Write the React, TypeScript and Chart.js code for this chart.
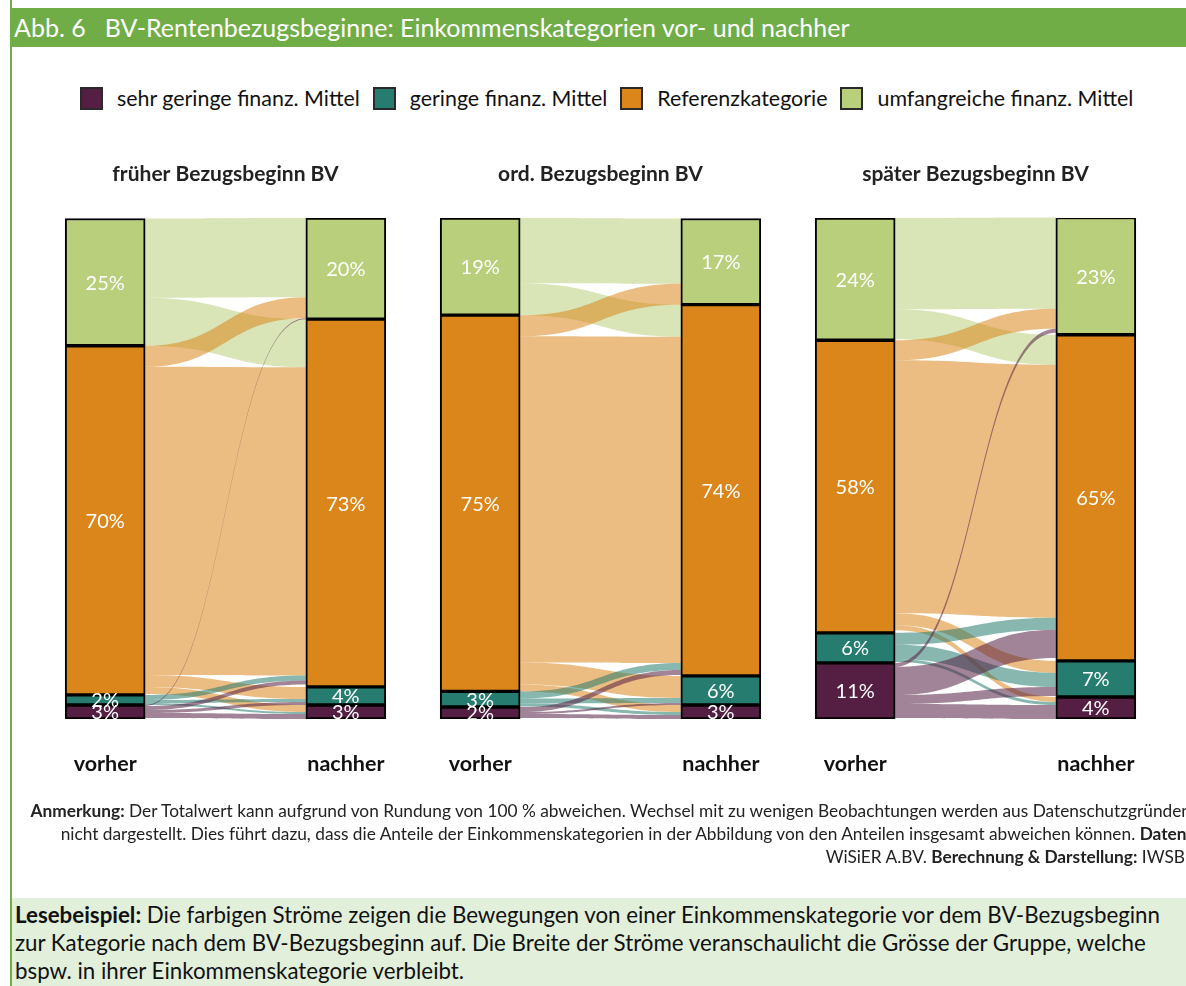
import React, { useEffect, useRef } from "react";
import { Chart, registerables } from "chart.js";

Chart.register(...registerables);
document.body.style.margin = "0";

const FONT = "Lato, 'Open Sans', sans-serif";

// Category order: bottom -> top of the stack
const categories = [
  "sehr geringe finanz. Mittel",
  "geringe finanz. Mittel",
  "Referenzkategorie",
  "umfangreiche finanz. Mittel",
];
const barColors = ["#541f42", "#277c70", "#db861b", "#b9cf7b"];
const flowColors = [
  "rgba(84,31,66,0.55)",
  "rgba(39,124,112,0.55)",
  "rgba(219,134,27,0.55)",
  "rgba(185,207,123,0.55)",
];
const stages = ["vorher", "", "nachher"];
const panelTitles = ["früher Bezugsbeginn BV", "ord. Bezugsbeginn BV", "später Bezugsbeginn BV"];

// shares in % (sehr geringe, geringe, Referenz, umfangreiche)
const fruehVorher = [2.8, 2.0, 69.7, 25.4];
const fruehNachher = [2.8, 3.6, 73.4, 20.2];
const ordVorher = [2.4, 3.1, 75.1, 19.4];
const ordNachher = [2.8, 5.8, 74.1, 17.2];
const spaetVorher = [11.2, 6.0, 58.4, 24.4];
const spaetNachher = [4.4, 7.2, 65.1, 23.4];

// flows[from][to] in %, same category order
const fruehFlows = [
  [1.0, 0.6, 0.8, 0.2],
  [0.4, 0.6, 1.0, 0],
  [1.4, 2.4, 61.5, 4.2],
  [0, 0, 9.6, 15.8],
];
const ordFlows = [
  [0.8, 0.4, 1.0, 0],
  [0.6, 1.0, 1.4, 0],
  [1.4, 4.4, 65.1, 4.2],
  [0, 0, 6.4, 13.0],
];
const spaetFlows = [
  [2.8, 1.8, 5.6, 0.8],
  [0.6, 2.8, 2.4, 0],
  [1.0, 2.4, 50.5, 4.0],
  [0, 0, 6.0, 18.2],
];

const panels = [
  { title: panelTitles[0], before: fruehVorher, after: fruehNachher, flows: fruehFlows },
  { title: panelTitles[1], before: ordVorher, after: ordNachher, flows: ordFlows },
  { title: panelTitles[2], before: spaetVorher, after: spaetNachher, flows: spaetFlows },
];

const TOP_DOWN = [3, 2, 1, 0];

const sankeyPlugin = {
  id: "sankeyFlows",
  beforeDatasetsDraw(chart: any) {
    const cfg = chart.options.plugins.sankeyFlows;
    if (!cfg) return;
    const { flows, before, after } = cfg;
    const y = chart.scales.y;
    const meta = chart.getDatasetMeta(0);
    const bL = meta.data[0];
    const bR = meta.data[2];
    const x0 = bL.x + bL.width / 2;
    const x1 = bR.x - bR.width / 2;
    const xm = (x0 + x1) / 2;
    const cum = (arr: number[], i: number) => arr.slice(0, i + 1).reduce((a, b) => a + b, 0);
    const src: Record<string, [number, number]> = {};
    const tgt: Record<string, [number, number]> = {};
    for (const s of TOP_DOWN) {
      let top = cum(before, s);
      for (const t of TOP_DOWN) {
        const v = flows[s][t];
        if (!v) continue;
        src[s + "-" + t] = [top, top - v];
        top -= v;
      }
    }
    for (const t of TOP_DOWN) {
      let top = cum(after, t);
      for (const s of TOP_DOWN) {
        const v = flows[s][t];
        if (!v) continue;
        tgt[s + "-" + t] = [top, top - v];
        top -= v;
      }
    }
    const ctx = chart.ctx;
    ctx.save();
    for (const s of TOP_DOWN) {
      for (const t of TOP_DOWN) {
        const k = s + "-" + t;
        if (!src[k]) continue;
        const sy0 = y.getPixelForValue(src[k][0]);
        const sy1 = y.getPixelForValue(src[k][1]);
        const ty0 = y.getPixelForValue(tgt[k][0]);
        const ty1 = y.getPixelForValue(tgt[k][1]);
        ctx.beginPath();
        ctx.moveTo(x0, sy0);
        ctx.bezierCurveTo(xm, sy0, xm, ty0, x1, ty0);
        ctx.lineTo(x1, ty1);
        ctx.bezierCurveTo(xm, ty1, xm, sy1, x0, sy1);
        ctx.closePath();
        ctx.fillStyle = flowColors[s];
        ctx.fill();
      }
    }
    ctx.restore();
  },
  afterDatasetsDraw(chart: any) {
    const ctx = chart.ctx;
    ctx.save();
    ctx.fillStyle = "#ffffff";
    ctx.font = "20px " + FONT;
    ctx.textAlign = "center";
    ctx.textBaseline = "middle";
    chart.data.datasets.forEach((ds: any, i: number) => {
      const meta = chart.getDatasetMeta(i);
      [0, 2].forEach((j) => {
        const v = ds.data[j];
        if (v == null) return;
        const el = meta.data[j];
        const cy = (el.y + el.base) / 2;
        ctx.fillText(Math.round(v) + "%", el.x, cy + 1);
      });
    });
    ctx.restore();
  },
};

function Panel({ idx }: { idx: number }) {
  const ref = useRef<HTMLCanvasElement>(null);
  const p = panels[idx];
  useEffect(() => {
    if (!ref.current) return;
    const chart = new Chart(ref.current, {
      type: "bar",
      data: {
        labels: stages,
        datasets: categories.map((c, i) => ({
          label: c,
          data: [p.before[i], null, p.after[i]],
          backgroundColor: barColors[i],
          borderColor: "#000000",
          borderWidth: 2,
          borderSkipped: false,
          barThickness: 80,
          stack: "s",
        })),
      },
      options: {
        responsive: false,
        animation: false,
        layout: { padding: 0 },
        scales: {
          x: {
            stacked: true,
            grid: { display: false, drawTicks: false },
            border: { display: false },
            ticks: {
              padding: 32,
              color: "#111111",
              maxRotation: 0,
              font: { family: FONT, size: 21.5, weight: "bold" },
            },
            afterFit(scale: any) {
              scale.paddingLeft = 0;
              scale.paddingRight = 0;
              scale.height = 90;
            },
          },
          y: { stacked: true, display: false, min: 0, max: 100 },
        },
        plugins: {
          legend: { display: false },
          tooltip: { enabled: false },
          title: {
            display: true,
            text: p.title,
            color: "#222222",
            font: { family: FONT, size: 21, weight: "bold" },
            padding: { top: 11.4, bottom: 31.4 },
          },
          sankeyFlows: { flows: p.flows, before: p.before, after: p.after },
        } as any,
      },
      plugins: [sankeyPlugin],
    } as any);
    return () => chart.destroy();
  }, []);
  return (
    <canvas
      ref={ref}
      width={361}
      height={659}
      style={{ position: "absolute", left: 45 + idx * 375, top: 150, width: 361, height: 659 }}
    />
  );
}

export default function App() {
  return (
    <div
      style={{
        position: "relative",
        width: 1186,
        height: 986,
        overflow: "hidden",
        background: "#ffffff",
        fontFamily: FONT,
        color: "#111",
      }}
    >
      <div style={{ position: "absolute", left: 10, top: 0, width: 2, height: 986, background: "#70ad47" }} />
      <div
        style={{
          position: "absolute",
          left: 10,
          top: 8,
          width: 1176,
          height: 39,
          background: "#70ad47",
          color: "#fff",
          fontSize: 25,
          lineHeight: "38px",
          paddingLeft: 4,
          boxSizing: "border-box",
          whiteSpace: "pre",
        }}
      >
        <span>Abb. 6</span>
        <span style={{ marginLeft: 19 }}>BV-Rentenbezugsbeginne: Einkommenskategorien vor- und nachher</span>
      </div>
      <div
        style={{
          position: "absolute",
          left: 80,
          top: 86,
          display: "flex",
          alignItems: "center",
          gap: 13,
          whiteSpace: "nowrap",
        }}
      >
        {categories.map((c, i) => (
          <div key={c} style={{ display: "flex", alignItems: "center" }}>
            <span
              style={{
                display: "inline-block",
                width: 23,
                height: 23,
                boxSizing: "border-box",
                background: barColors[i],
                border: "2px solid #2a2a2a",
                marginRight: 14,
              }}
            />
            <span style={{ fontSize: 21.4, lineHeight: "24px" }}>{c}</span>
          </div>
        ))}
      </div>
      {panels.map((_, i) => (
        <Panel key={i} idx={i} />
      ))}
      <div
        style={{
          position: "absolute",
          top: 799,
          left: -10,
          width: 1201,
          textAlign: "right",
          fontSize: 17.3,
          lineHeight: "23px",
          color: "#222",
          whiteSpace: "nowrap",
        }}
      >
        <div>
          <b>Anmerkung:</b> Der Totalwert kann aufgrund von Rundung von 100 % abweichen. Wechsel mit zu wenigen
          Beobachtungen werden aus Datenschutzgründen
        </div>
        <div>
          nicht dargestellt. Dies führt dazu, dass die Anteile der Einkommenskategorien in der Abbildung von den
          Anteilen insgesamt abweichen können. <b>Daten:</b>
        </div>
        <div style={{ paddingRight: 6 }}>
          WiSiER A.BV. <b>Berechnung &amp; Darstellung:</b> IWSB
        </div>
      </div>
      <div
        style={{
          position: "absolute",
          left: 12,
          top: 898,
          width: 1174,
          height: 88,
          background: "#e2efda",
          padding: "3px 0 0 3px",
          boxSizing: "border-box",
          fontSize: 22.3,
          lineHeight: "28px",
          color: "#111",
          whiteSpace: "nowrap",
        }}
      >
        <b>Lesebeispiel:</b> Die farbigen Ströme zeigen die Bewegungen von einer Einkommenskategorie vor dem
        BV-Bezugsbeginn
        <br />
        zur Kategorie nach dem BV-Bezugsbeginn auf. Die Breite der Ströme veranschaulicht die Grösse der Gruppe,
        welche
        <br />
        bspw. in ihrer Einkommenskategorie verbleibt.
      </div>
    </div>
  );
}
